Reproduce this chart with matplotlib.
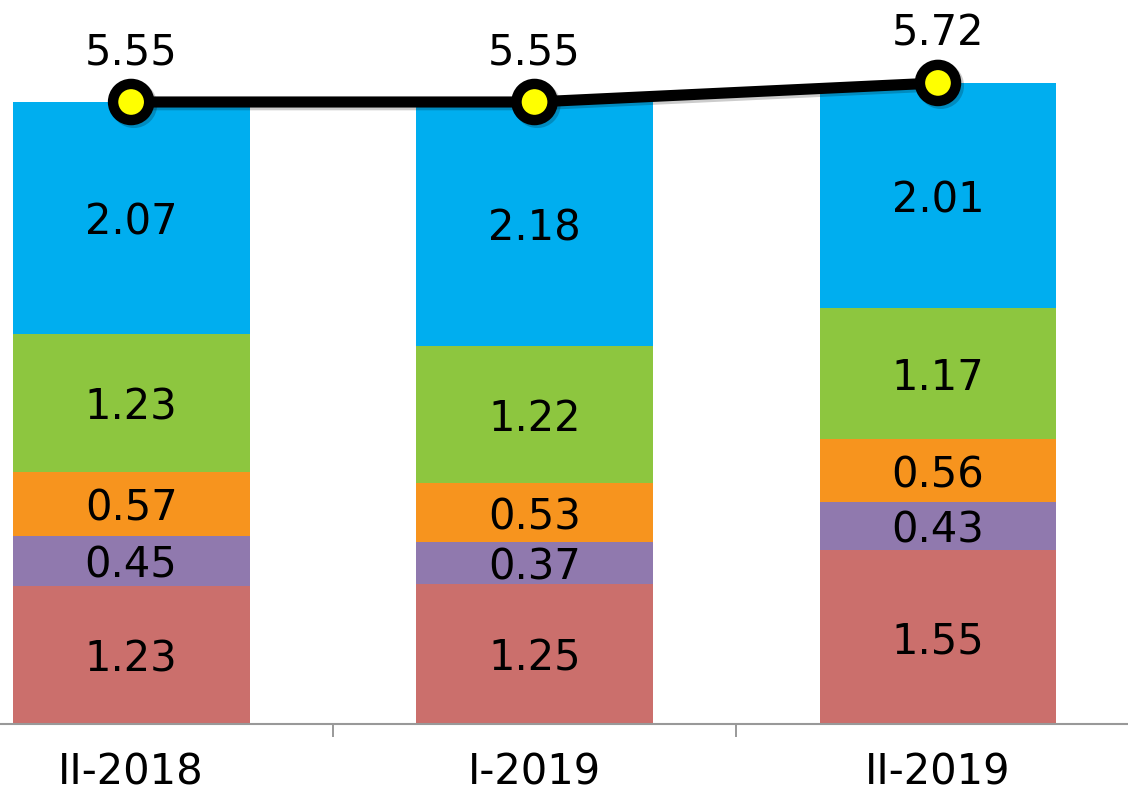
import matplotlib.pyplot as plt
import matplotlib.patheffects as pe
import numpy as np

categories = ['II-2018', 'I-2019', 'II-2019']
red_vals = [1.23, 1.25, 1.55]
purple_vals = [0.45, 0.37, 0.43]
orange_vals = [0.57, 0.53, 0.56]
green_vals = [1.23, 1.22, 1.17]
blue_vals = [2.07, 2.18, 2.01]
totals = [5.55, 5.55, 5.72]

series = [red_vals, purple_vals, orange_vals, green_vals, blue_vals]
colors = ['#CB6F6C', '#9079AE', '#F7941E', '#8DC63F', '#00AEEF']

fig = plt.figure(figsize=(11.28, 7.95), dpi=100)
ax = fig.add_axes([0, 0.0893, 1, 0.9107])

x = np.arange(len(categories))
bottom = np.zeros(len(categories))
for vals, c in zip(series, colors):
    ax.bar(x, vals, 0.587, bottom=bottom, color=c, linewidth=0, zorder=2)
    for xi, b, v in zip(x, bottom, vals):
        ax.text(xi, b + v / 2, f'{v:.2f}', ha='center', va='center_baseline',
                fontsize=30, color='black', zorder=4)
    bottom += np.array(vals)

ax.plot(x, totals, color='black', lw=8, marker='o', ms=26, mew=7.5,
        mfc='#FFFF00', mec='black', zorder=5,
        path_effects=[pe.SimpleLineShadow(offset=(2, -2), alpha=0.2), pe.Normal()])
for xi, t in zip(x, totals):
    ax.annotate(f'{t:.2f}', (xi, t), xytext=(0, 39), textcoords='offset points',
                ha='center', va='center_baseline', fontsize=30, color='black', zorder=6)

ax.set_xlim(-0.325, 2.471)
ax.set_ylim(0, 6.46)
ax.set_xticks(x)
ax.set_xticklabels(categories, fontsize=30)
ax.set_xticks([0.5, 1.5], minor=True)
ax.tick_params(axis='x', which='major', length=0, pad=20)
ax.tick_params(axis='x', which='minor', length=9, width=1.2, color='#888888', direction='out')
ax.set_yticks([])
for s in ['top', 'right', 'left']:
    ax.spines[s].set_visible(False)
ax.spines['bottom'].set_color('#999999')
ax.spines['bottom'].set_linewidth(1.5)

fig.savefig('out.png', dpi=100)
